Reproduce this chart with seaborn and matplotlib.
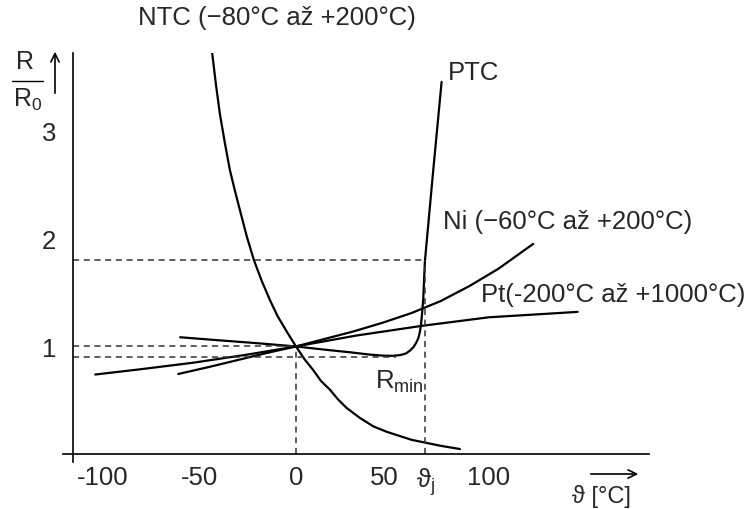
import numpy as np
import pandas as pd
import matplotlib
matplotlib.use("Agg")
import matplotlib.pyplot as plt
import matplotlib.transforms as mtransforms
import seaborn as sns

# values (temperature in degC, R/R0)
ntc_t = [-43.7, -41.5, -39.4, -36.8, -34.2, -31.6, -29.0, -25.5, -21.8, -17.8, -13.5, -9.5, -4.5, 0,
         4.5, 9.0, 13, 17.6, 21.8, 26.3, 33, 40.1, 47, 53.9, 60, 66.8, 75, 85]
ntc_r = [3.76, 3.43, 3.15, 2.88, 2.63, 2.44, 2.26, 2.02, 1.80, 1.61, 1.43, 1.28, 1.13, 1.0,
         0.88, 0.78, 0.68, 0.60, 0.51, 0.43, 0.34, 0.26, 0.21, 0.17, 0.135, 0.11, 0.08, 0.05]

ptc_t = [-60, -40, -20, 0, 15, 28, 38, 45, 50, 54, 57, 59, 61, 62.5, 63.5, 64.2, 64.8, 65.3, 66,
         66.8, 71, 75.5]
ptc_r = [1.085, 1.057, 1.03, 1.0, 0.97, 0.946, 0.925, 0.915, 0.913, 0.92, 0.935, 0.96, 0.995,
         1.04, 1.08, 1.13, 1.2, 1.29, 1.44, 1.78, 2.6, 3.45]

ni_t = [-61, -45, -30, -15, 0, 15, 30, 45, 60, 75, 90, 105, 123]
ni_r = [0.745, 0.81, 0.875, 0.94, 1.0, 1.07, 1.14, 1.22, 1.31, 1.42, 1.56, 1.72, 1.95]

pt_t = [-104, -80, -53, -25, 0, 31, 65, 100, 146]
pt_r = [0.74, 0.79, 0.85, 0.925, 1.0, 1.10, 1.19, 1.27, 1.32]

theta_j = 67
r_min = 0.905
r_j = 1.8

x_ticks = [-100, -50, 0, 50, 100]
y_ticks = [1, 2, 3]

df = pd.concat([
    pd.DataFrame({"t": ntc_t, "r": ntc_r, "s": "NTC"}),
    pd.DataFrame({"t": ptc_t, "r": ptc_r, "s": "PTC"}),
    pd.DataFrame({"t": ni_t, "r": ni_r, "s": "Ni"}),
    pd.DataFrame({"t": pt_t, "r": pt_r, "s": "Pt"}),
])

sns.set_style("white")
plt.rcParams['font.family'] = ['Liberation Sans', 'DejaVu Sans']
plt.rcParams['mathtext.fontset'] = 'custom'
plt.rcParams['mathtext.rm'] = 'Liberation Sans'

W, H = 754, 510
fig = plt.figure(figsize=(W / 100, H / 100), dpi=100)
ax = fig.add_axes([62.5 / W, 1 - 463 / H, (649 - 62.5) / W, (463 - 53.7) / H])

sns.lineplot(data=df, x="t", y="r", hue="s", units="s", estimator=None, sort=False,
             palette=["black"] * 4, linewidth=1.6, legend=False, ax=ax)

ax.set_xlim(-121, 183)
ax.set_ylim(-0.07, 3.72)
x_axis = -115.5

# dashed guide lines
dash = dict(color="#333333", linestyle=(0, (4, 3)), linewidth=1.1)
ax.hlines(r_j, x_axis, theta_j, **dash)
ax.hlines(1, x_axis, 0, **dash)
ax.hlines(r_min, x_axis, 52, **dash)
ax.vlines(0, 0, 1, **dash)
ax.vlines(theta_j, 0, r_j, **dash)

for side in ["top", "right"]:
    ax.spines[side].set_visible(False)
ax.spines["left"].set_position(("data", x_axis))
ax.spines["bottom"].set_position(("data", 0))
for side in ["left", "bottom"]:
    ax.spines[side].set_color("black")
    ax.spines[side].set_linewidth(1.2)

fs = 18.5
ax.set_xticks(x_ticks)
ax.set_xticklabels([str(v) for v in x_ticks])
ax.set_xticks([theta_j], minor=True)
ax.set_xticklabels([r"ϑ$_\mathregular{j}$"], minor=True)
ax.set_yticks(y_ticks)
ax.tick_params(axis="x", which="major", direction="inout", length=7, width=1, pad=4, labelsize=fs)
ax.tick_params(axis="x", which="minor", length=0, pad=7.5, labelsize=fs)
ax.tick_params(axis="y", direction="out", length=5, width=1, pad=7, labelsize=fs)
ax.set_xlabel("")
ax.set_ylabel("")
lbl50 = ax.get_xticklabels()[3]
lbl50.set_transform(lbl50.get_transform() + mtransforms.ScaledTranslation(-0.08, 0, fig.dpi_scale_trans))

ax.text(-82, 4.05, "NTC (−80°C až +200°C)", fontsize=fs, va="center", ha="left", clip_on=False)
ax.text(79, 3.54, "PTC", fontsize=fs, va="center", ha="left")
ax.text(76, 2.16, "Ni (−60°C až +200°C)", fontsize=fs, va="center", ha="left")
ax.text(96, 1.49, "Pt(-200°C až +1000°C)", fontsize=fs, va="center", ha="left", clip_on=False)
ax.text(41, 0.68, r"R$_\mathregular{min}$", fontsize=fs, va="center", ha="left")

# axis labels with arrows
fig.text(601 / W, 1 - 497 / H, "ϑ [°C]", fontsize=17, ha="center", va="center")
fig.add_artist(matplotlib.patches.FancyArrowPatch((588 / W, 1 - 475 / H), (641 / W, 1 - 475 / H),
               transform=fig.transFigure, arrowstyle="->", mutation_scale=15, color="black", lw=1.2))
fig.text(25 / W, 1 - 62 / H, "R", fontsize=18, ha="center", va="center")
fig.add_artist(matplotlib.lines.Line2D([12 / W, 43 / W], [1 - 82 / H, 1 - 82 / H],
               transform=fig.transFigure, color="black", lw=1))
fig.text(28 / W, 1 - 100 / H, r"R$_\mathregular{0}$", fontsize=18, ha="center", va="center")
fig.add_artist(matplotlib.patches.FancyArrowPatch((55 / W, 1 - 97 / H), (55 / W, 1 - 50 / H),
               transform=fig.transFigure, arrowstyle="->", mutation_scale=15, color="black", lw=1.2))

fig.savefig("out.png", dpi=100)
